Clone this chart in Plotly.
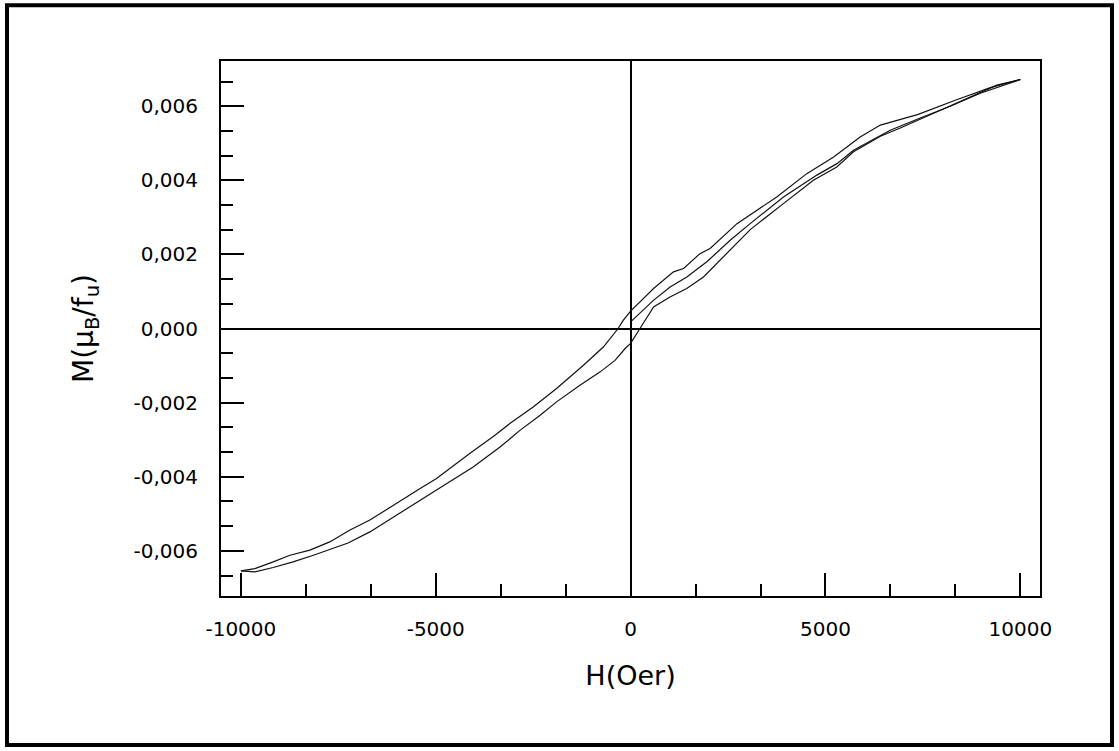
import plotly.graph_objects as go

# ---------------- data ----------------
H_virgin = [0, 585, 1014, 1443, 1956, 2555, 3068, 3923, 4780, 5294, 5720, 6662,
            7433, 8203, 8973, 9487, 10000]
M_virgin = [0.00018, 0.00076, 0.00112, 0.00139, 0.00180, 0.00238, 0.00283, 0.00355,
            0.00414, 0.00445, 0.00481, 0.00535, 0.00568, 0.00600, 0.00635, 0.00654,
            0.00672]

H_down = [10000, 9230, 8330, 7380, 6410, 5890, 5210, 4520, 3750, 3200, 2730, 2040,
          1780, 1360, 1100, 590, 0, -190, -320, -700, -1210, -1900, -2500, -3090,
          -3480, -4120, -4980, -5400, -6090, -6690, -7200, -7720, -8230, -8740,
          -9170, -9640, -10000]
M_down = [0.00672, 0.00650, 0.00616, 0.00578, 0.00549, 0.00517, 0.00463, 0.00418,
          0.00355, 0.00317, 0.00283, 0.00216, 0.00202, 0.00162, 0.00153, 0.00108,
          0.00047, 0.00022, 0.0, -0.00050, -0.00099, -0.00162, -0.00212, -0.00256,
          -0.00288, -0.00337, -0.00405, -0.00432, -0.00477, -0.00517, -0.00544,
          -0.00576, -0.00598, -0.00612, -0.00630, -0.00648, -0.00654]

H_up = [-10000, -9640, -9170, -8660, -8140, -7720, -7250, -6690, -5660, -4980,
        -4040, -3350, -2840, -2320, -1900, -1300, -780, -400, -140, 0, 240, 590,
        1010, 1440, 1870, 2300, 2730, 3070, 3920, 4690, 5290, 5720, 6410, 6920,
        7950, 8720, 9400, 10000]
M_up = [-0.00654, -0.00657, -0.00645, -0.00630, -0.00612, -0.00596, -0.00579,
        -0.00549, -0.00482, -0.00436, -0.00374, -0.00320, -0.00275, -0.00234,
        -0.00198, -0.00153, -0.00117, -0.00086, -0.00054, -0.00040, 0.0, 0.00058,
        0.00085, 0.00108, 0.00139, 0.00184, 0.00229, 0.00267, 0.00337, 0.00400,
        0.00436, 0.00477, 0.00519, 0.00541, 0.00589, 0.00625, 0.00657, 0.00672]

x_tickvals = [-10000, -5000, 0, 5000, 10000]
x_ticktext = ["-10000", "-5000", "0", "5000", "10000"]
y_tickvals = [-0.006, -0.004, -0.002, 0.0, 0.002, 0.004, 0.006]
y_ticktext = ["-0,006", "-0,004", "-0,002", "0,000", "0,002", "0,004", "0,006"]

x_title = "H(Oer)"
y_title = "M(\u03bc<sub>B</sub>/f<sub>u</sub>)"

# ---------------- layout geometry ----------------
W, Hh = 1119, 751
ML, MR, MT, MB = 221, 79, 61, 155
XR = [-10510, 10505]
YR = [-0.00722, 0.00722]

x_minor = [k * 5000 / 3 for k in range(-6, 7) if k % 3 != 0]
y_minor = [k * 0.002 / 3 for k in range(-10, 11) if k % 3 != 0]

FONT = "DejaVu Sans"
line_style = dict(color="#111111", width=1.2)

fig = go.Figure()
for hx, my in ((H_virgin, M_virgin), (H_down, M_down), (H_up, M_up)):
    fig.add_trace(go.Scatter(x=hx, y=my, mode="lines", line=line_style,
                             showlegend=False, hoverinfo="x+y"))

axis_common = dict(
    showgrid=False, showline=True, linecolor="black", linewidth=2, mirror=True,
    ticks="inside", tickcolor="black", tickwidth=2, ticklen=23,
    zeroline=True, zerolinecolor="black", zerolinewidth=2,
    tickfont=dict(family=FONT, size=20, color="black"),
    tickmode="array",
)

fig.update_xaxes(
    **axis_common, range=XR, tickvals=x_tickvals, ticktext=x_ticktext,
    ticklabelstandoff=14,
    minor=dict(tickmode="array", tickvals=x_minor, ticks="inside", ticklen=12,
               tickwidth=2, tickcolor="black"),
    title=dict(text=x_title, font=dict(family=FONT, size=27, color="black"),
               standoff=26),
)
fig.update_yaxes(
    **axis_common, range=YR, tickvals=y_tickvals, ticktext=y_ticktext,
    ticklabelstandoff=17,
    minor=dict(tickmode="array", tickvals=y_minor, ticks="inside", ticklen=12,
               tickwidth=2, tickcolor="black"),
    title=dict(text=y_title, font=dict(family=FONT, size=28, color="black"),
               standoff=32),
)

# outer frame around the whole picture (pixel -> paper conversion)
pw, ph = W - ML - MR, Hh - MT - MB
def px_x(p):
    return (p - ML) / pw
def px_y(p):
    return (Hh - MB - p) / ph

fig.add_shape(type="rect", xref="paper", yref="paper",
              x0=px_x(7), x1=px_x(1112), y0=px_y(745), y1=px_y(5.3),
              line=dict(color="black", width=4), fillcolor="rgba(0,0,0,0)",
              layer="above")

fig.update_layout(
    width=W, height=Hh, autosize=False,
    margin=dict(l=ML, r=MR, t=MT, b=MB, pad=0),
    paper_bgcolor="white", plot_bgcolor="white",
    font=dict(family=FONT, color="black"),
)

fig.write_html("out.html")
